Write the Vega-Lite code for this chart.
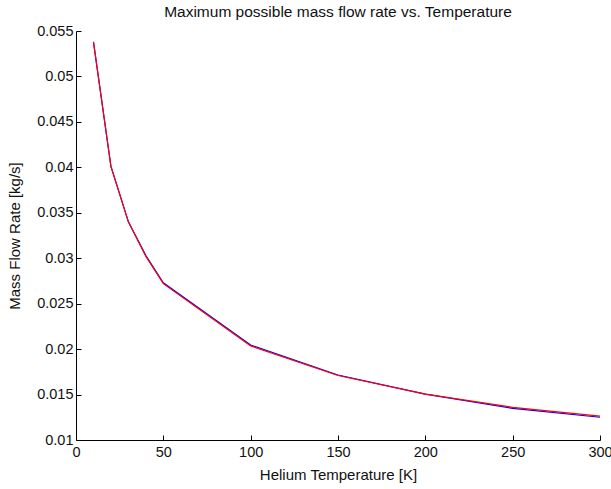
{
  "$schema": "https://vega.github.io/schema/vega-lite/v6.json",
  "autosize": "none",
  "width": 524,
  "height": 409,
  "padding": {"left": 76, "top": 31, "right": 11, "bottom": 49},
  "background": "white",
  "config": {
    "view": {"stroke": null},
    "font": "Liberation Sans",
    "axis": {
      "grid": false,
      "domainColor": "black",
      "tickColor": "black",
      "labelColor": "#111111",
      "titleColor": "#111111",
      "labelFont": "Liberation Sans",
      "titleFont": "Liberation Sans",
      "labelFontSize": 14.5,
      "titleFontSize": 15,
      "titleFontWeight": "normal",
      "tickSize": -5,
      "domainWidth": 1,
      "tickWidth": 1
    },
    "title": {"font": "Liberation Sans", "fontSize": 15.5, "fontWeight": "normal", "color": "#111111"}
  },
  "title": {"text": "Maximum possible mass flow rate vs. Temperature", "offset": 3},
  "data": {
    "values": [
      {"T": 10, "m": 0.0538, "s": "blue"},
      {"T": 20, "m": 0.0401, "s": "blue"},
      {"T": 30, "m": 0.0340, "s": "blue"},
      {"T": 40, "m": 0.0303, "s": "blue"},
      {"T": 50, "m": 0.0273, "s": "blue"},
      {"T": 100, "m": 0.02045, "s": "blue"},
      {"T": 150, "m": 0.01715, "s": "blue"},
      {"T": 200, "m": 0.01505, "s": "blue"},
      {"T": 250, "m": 0.01348, "s": "blue"},
      {"T": 300, "m": 0.01250, "s": "blue"},
      {"T": 10, "m": 0.0538, "s": "red"},
      {"T": 20, "m": 0.0401, "s": "red"},
      {"T": 30, "m": 0.0340, "s": "red"},
      {"T": 40, "m": 0.0302, "s": "red"},
      {"T": 50, "m": 0.0272, "s": "red"},
      {"T": 100, "m": 0.02035, "s": "red"},
      {"T": 150, "m": 0.01710, "s": "red"},
      {"T": 200, "m": 0.01505, "s": "red"},
      {"T": 250, "m": 0.01360, "s": "red"},
      {"T": 300, "m": 0.01262, "s": "red"}
    ]
  },
  "mark": {"type": "line", "strokeWidth": 1.2, "clip": true},
  "encoding": {
    "x": {
      "field": "T", "type": "quantitative",
      "scale": {"domain": [0, 300], "nice": false, "zero": false},
      "axis": {"values": [0, 50, 100, 150, 200, 250, 300], "title": "Helium Temperature [K]", "labelPadding": 10, "titlePadding": 9, "labelFlush": false}
    },
    "y": {
      "field": "m", "type": "quantitative",
      "scale": {"domain": [0.01, 0.055], "nice": false, "zero": false},
      "axis": {"values": [0.01, 0.015, 0.02, 0.025, 0.03, 0.035, 0.04, 0.045, 0.05, 0.055], "format": "~g", "title": "Mass Flow Rate [kg/s]", "labelPadding": 8, "titlePadding": 14, "labelFlush": false}
    },
    "color": {"field": "s", "type": "nominal", "scale": {"domain": ["blue", "red"], "range": ["#0000ff", "#ff0000"]}, "legend": null},
    "order": {"field": "T", "type": "quantitative"}
  }
}
